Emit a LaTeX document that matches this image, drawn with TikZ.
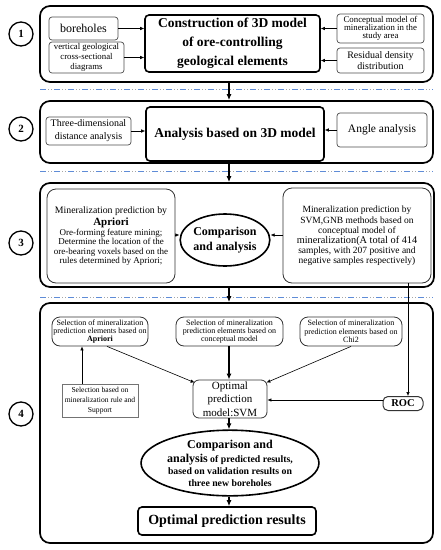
\documentclass[tikz,border=0pt]{standalone}
\usepackage{fontspec}
\setmainfont{Liberation Serif}
\usetikzlibrary{arrows.meta,shapes.geometric,calc}
\newcommand{\fs}[2]{\fontsize{#1}{#2}\selectfont}
\begin{document}
\begin{tikzpicture}[x=1pt,y=-1pt,
  outerbox/.style={draw, line width=1.7pt, rounded corners=10pt, inner sep=0pt},
  mainbox/.style={draw, line width=1.6pt, rounded corners=4pt, inner sep=0pt, align=center},
  subbox/.style={draw=black!70, line width=0.7pt, rounded corners=3pt, inner sep=0pt, align=center},
  pillbox/.style={draw=black!80, line width=0.8pt, rounded corners=8pt, inner sep=0pt, align=center},
  sqbox/.style={draw=black!55, line width=0.7pt, inner sep=0pt, align=center},
  numc/.style={circle, draw, line width=1.3pt, minimum size=24pt, inner sep=0pt, font=\fs{11}{13}\bfseries},
  ell/.style={ellipse, draw, line width=1.6pt, inner sep=0pt, align=center},
  arr/.style={-{Latex[length=4pt,width=3.5pt]}, line width=0.6pt},
  flow/.style={-{Latex[length=6pt,width=5pt]}, line width=1.3pt},
  bluedash/.style={draw={rgb,255:red,95;green,140;blue,215}, line width=0.8pt, dash pattern=on 6pt off 8pt},
  graydots/.style={draw=black!35, line width=0.8pt, dash pattern=on 0pt off 8pt on 0.9pt off 2.4pt on 0.9pt off 1.8pt}
]
\useasboundingbox (0,0) rectangle (440,550);
\coordinate (cx) at (229,0);

% ---------- Section 1 ----------
\node[outerbox, minimum width=393pt, minimum height=76pt] (outer1) at (236.5,44) {};
\node[numc] (c1) at (21,34) {1};
\node[subbox, minimum width=69pt, minimum height=23pt, font=\fs{12}{14}] (bore) at (83.5,28.5) {boreholes};
\node[subbox, minimum width=75pt, minimum height=31pt, font=\fs{8.8}{10.3}] (vert) at (86.5,57.5) {vertical geological\\cross-sectional\\diagrams};
\node[mainbox, minimum width=175pt, minimum height=57pt, font=\fs{13.5}{19}\bfseries] (main1) at (232.5,43.5) {Construction of 3D model\\of ore-controlling\\geological elements};
\node[subbox, minimum width=87pt, minimum height=29pt, font=\fs{8.8}{8.3}] (concept) at (380.5,28.5) {Conceptual model of\\mineralization in the\\study area};
\node[subbox, minimum width=87pt, minimum height=25pt, font=\fs{10}{11.7}] (resid) at (380.5,60.5) {Residual density\\distribution};
\draw[arr] (bore.east) -- (bore.east -| main1.west);
\draw[arr] (vert.east) -- (vert.east -| main1.west);
\draw[arr] (concept.west) -- (concept.west -| main1.east);
\draw[arr] (resid.west) -- (resid.west -| main1.east);

\draw[bluedash] (40,89) -- (433,89);
\draw[graydots] (40,89) -- (433,89);

% ---------- Section 2 ----------
\node[outerbox, minimum width=393pt, minimum height=62pt] (outer2) at (236.5,132) {};
\node[numc] (c2) at (21,129) {2};
\node[subbox, minimum width=85pt, minimum height=28pt, font=\fs{10}{13}] (three) at (88.5,131) {Three-dimensional\\distance analysis};
\node[mainbox, minimum width=178pt, minimum height=54pt, font=\fs{13.5}{16}\bfseries] (main2) at (235,134) {Analysis based on 3D model};
\node[subbox, minimum width=90pt, minimum height=34pt, font=\fs{11.5}{13}] (angle) at (382,130) {Angle analysis};
\draw[arr] (three.east) -- (three.east -| main2.west);
\draw[arr] (angle.west) -- (angle.west -| main2.east);
\draw[flow] (outer1.south -| cx) -- (outer2.north -| cx);

\draw[bluedash] (40,171) -- (433,171);
\draw[graydots] (40,171) -- (433,171);

% ---------- Section 3 ----------
\node[outerbox, minimum width=394pt, minimum height=104pt] (outer3) at (237,235) {};
\node[numc] (c3) at (21,243) {3};
\node[pillbox, rounded corners=9pt, minimum width=128pt, minimum height=94pt, font=\fs{9}{9.2}] (left3) at (111,236)
  {{\fs{9.8}{12}Mineralization prediction by}\\[1pt]
   {\fs{11}{12}\bfseries Apriori}\\[1pt]
   Ore-forming feature mining;\\Determine the location of the\\ore-bearing voxels based on the\\rules determined by Apriori;};
\node[ell, minimum width=82pt, minimum height=52pt, font=\fs{12}{15}\bfseries] (ell3) at (225,240) {Comparison\\and analysis};
\node[pillbox, rounded corners=9pt, minimum width=148pt, minimum height=95pt, font=\fs{9.5}{10}] (right3) at (357,235.5)
  {Mineralization prediction by\\[1.5pt]SVM,GNB methods based on\\conceptual model of\\{\fs{10.3}{10}mineralization(A total of 414}\\samples, with 207 positive and\\negative samples respectively)};
\draw[arr] (left3.east |- 0,235) -- (ell3.west |- 0,235);
\draw[arr] (right3.west |- 0,235) -- (ell3.east |- 0,235);
\draw[flow] (outer2.south -| cx) -- (outer3.north -| cx);

\draw[bluedash] (40,297) -- (433,297);
\draw[graydots] (40,297) -- (433,297);

% ---------- Section 4 ----------
\node[outerbox, minimum width=393pt, minimum height=240pt] (outer4) at (236.5,423) {};
\node[numc] (c4) at (21,414) {4};
\node[pillbox, minimum width=96pt, minimum height=29pt, font=\fs{8}{8.3}] (selA) at (100,331.5) {Selection of mineralization\\prediction elements based on\\\textbf{Apriori}};
\node[pillbox, minimum width=107pt, minimum height=29pt, font=\fs{8}{8.3}] (selB) at (229.5,331.5) {Selection of mineralization\\prediction elements based on\\conceptual model};
\node[pillbox, minimum width=102pt, minimum height=29pt, font=\fs{8}{8.3}] (selC) at (351,331.5) {Selection of mineralization\\prediction elements based on\\Chi2};
\node[sqbox, minimum width=76pt, minimum height=33pt, font=\fs{7.6}{10}] (selBase) at (100,400.5) {Selection based on\\mineralization rule and\\Support};
\node[pillbox, rounded corners=6pt, minimum width=74pt, minimum height=38pt, font=\fs{11}{13.3}] (opt) at (230,399) {Optimal\\prediction\\model:SVM};
\node[pillbox, rounded corners=5pt, line width=1pt, minimum width=40pt, minimum height=14pt, font=\fs{10.5}{12}\bfseries] (roc) at (403,403.5) {ROC};
\node[ell, minimum width=156pt, minimum height=62pt, font=\fs{9.8}{12}\bfseries] (ell4) at (230,463)
  {{\fs{12}{14}Comparison and}\\[2pt]
   {\fs{12}{14}analysis} of predicted results,\\based on validation results on\\three new boreholes};
\node[mainbox, minimum width=178pt, minimum height=28pt, font=\fs{14}{16}\bfseries] (result) at (227,521) {Optimal prediction results};

\draw[flow] (outer3.south -| cx) -- (outer4.north -| cx);
\draw[arr] ([xshift=7pt]selA.south) -- ([xshift=2pt,yshift=-3pt]opt.north west);
\draw[flow, line width=1.8pt] (selB.south -| cx) -- (opt.north -| cx);
\draw[arr] (selC.south) -- ([xshift=-1pt,yshift=-3pt]opt.north east);
\draw[arr] ([xshift=-18pt]selBase.north) -- ([xshift=-18pt]selBase.north |- selA.south);
\draw[arr] (roc.west |- 0,400) -- (opt.east |- 0,400);
\draw[arr] ([xshift=51pt]right3.south) -- ([xshift=51pt]right3.south |- roc.north);
\draw[flow] (opt.south -| cx) -- (ell4.north -| cx);
\draw[flow] (ell4.south -| cx) -- (result.north -| cx);
\end{tikzpicture}
\end{document}
